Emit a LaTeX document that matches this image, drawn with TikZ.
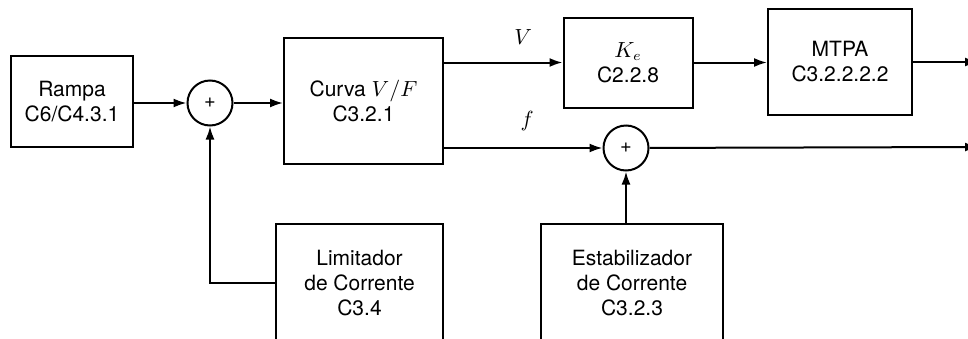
\documentclass[tikz,border=0pt]{standalone}
\usepackage{fontspec}
\setmainfont{TeX Gyre Heros}
\usetikzlibrary{arrows.meta}

\begin{document}
\begin{tikzpicture}[x=0.5pt, y=-0.5pt, line width=1pt,
        >={Latex[length=6.5pt, width=4.5pt]},
        every node/.style={font=\fontsize{10.5}{12.5}\selectfont},
        blk/.style={draw, align=center, inner sep=0pt},
        soma/.style={draw, circle, minimum size=22.5pt, inner sep=0pt, font=\fontsize{10}{11}\selectfont}]
    \useasboundingbox (0, 0) rectangle (968, 338);

    \node[blk, minimum width=61pt, minimum height=45.5pt] (rampa) at (72, 101.5) {Rampa\\C6/C4.3.1};
    \node[soma] (s1) at (210, 103) {+};
    \node[blk, minimum width=79.5pt, minimum height=63pt] (curva) at (363.5, 101) {Curva $V/F$\\C3.2.1};
    \node[blk, minimum width=64.5pt, minimum height=45pt] (ke) at (628, 62.5) {$K_e$\\C2.2.8};
    \node[blk, minimum width=72pt, minimum height=53pt] (mtpa) at (840, 62) {MTPA\\C3.2.2.2.2};
    \node[soma] (s2) at (626, 148) {+};
    \node[blk, minimum width=83.5pt, minimum height=59pt] (lim) at (359.5, 283) {Limitador\\de Corrente\\C3.4};
    \node[blk, minimum width=91pt, minimum height=59pt] (estab) at (632, 283) {Estabilizador\\de Corrente\\C3.2.3};
    \coordinate (out1) at (978, 62);
    \coordinate (out2) at (978, 147);

    \draw[->] (rampa.east |- s1) -- (s1);
    \draw[->] (s1) -- (s1 -| curva.west);
    \draw[->] (curva.east |- ke.west) -- node[above, yshift=5pt, xshift=10pt] {$V$} (ke.west);
    \draw[->] (ke) -- (ke -| mtpa.west);
    \draw[->] (mtpa.east |- out1) -- (out1);
    \draw[->] (curva.east |- s2) -- node[above, yshift=5pt, xshift=2pt] {$f$} (s2);
    \draw[->] (s2) -- (out2);
    \draw[->] (lim.west) -| (s1.south);
    \draw[->] (s2 |- estab.north) -- (s2.south);
\end{tikzpicture}
\end{document}
